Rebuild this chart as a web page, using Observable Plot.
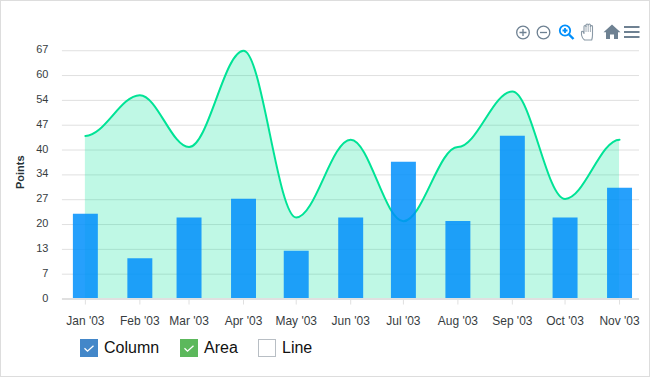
<!DOCTYPE html>
<html><head><meta charset="utf-8">
<script src="https://cdn.jsdelivr.net/npm/d3@7"></script>
<script src="https://cdn.jsdelivr.net/npm/@observablehq/plot@0.6"></script>
<style>
html,body{margin:0;padding:0;background:#fff}
#frame{position:relative;width:648px;height:375px;border:1px solid #ddd;overflow:hidden;font-family:"Liberation Sans",Arial,sans-serif}
#chart{position:absolute;left:-1px;top:-1px}
#chart svg{display:block}
.tb{position:absolute;left:-1px;top:-1px}
.lg{position:absolute;top:337px;font-size:16px;color:#111;line-height:20px}
.box{position:absolute;top:338px;width:18px;height:18px;box-sizing:border-box}
</style></head><body>
<div id="frame">
<div id="chart"></div>
<svg class="tb" width="650" height="60" viewBox="0 0 650 60">
  <g fill="none" stroke="#6E8192" stroke-width="1.3">
    <circle cx="523" cy="32.500" r="6.300"/><path d="M519.500 32.500h7M523 29v7"/>
    <circle cx="543.500" cy="32.500" r="6.300"/><path d="M540 32.500h7"/>
  </g>
  <g fill="none" stroke="#008FFB" stroke-width="1.800">
    <circle cx="565" cy="30.500" r="5.200"/><path d="M562.500 30.500h5M565 28v5"/>
    <path stroke-width="2.400" d="M569 34.500l4.500 4.500"/>
  </g>
  <path fill="#fff" stroke="#8a99a6" stroke-width="1.100" stroke-linejoin="round" d="M584.500 40c-1.500-1-2.500-2.500-3-5v-3c0-1 1.500-1 1.800 0l.7 1.500v-7c0-1.300 2-1.300 2 0v-1.500c0-1.300 2.200-1.300 2.200 0v0c0-1.300 2.200-1.300 2.200 0v1.500c0-1.200 2.100-1.200 2.100 0v8.500c0 2-.3 3.500-.8 5z"/>
  <path fill="none" stroke="#8a99a6" stroke-width=".8" d="M586 26v6M588.200 25v7M590.400 26v6"/>
  <path fill="#6E8192" d="M612 24.500l8.500 7.800h-2.500v6.700h-4v-4.500h-4v4.500h-4v-6.700h-2.500z"/>
  <path fill="none" stroke="#6E8192" stroke-width="2" d="M624 27h15.500M624 32h15.500M624 37h15.500"/>
</svg>
<div class="box" style="left:79px;background:#4387c9;"><svg width="18" height="18"><path d="M4.500 9.200l3 3 6-5.500" fill="none" stroke="#fff" stroke-width="1.300"/></svg></div>
<div class="lg" style="left:103px">Column</div>
<div class="box" style="left:179px;background:#5cb85c;"><svg width="18" height="18"><path d="M4.500 9.200l3 3 6-5.500" fill="none" stroke="#fff" stroke-width="1.300"/></svg></div>
<div class="lg" style="left:203px">Area</div>
<div class="box" style="left:257px;background:#fff;border:1px solid #b8bec4"></div>
<div class="lg" style="left:281px">Line</div>
</div>
<script>
const months = ["2003-01-01","2003-02-01","2003-03-01","2003-04-01","2003-05-01","2003-06-01","2003-07-01","2003-08-01","2003-09-01","2003-10-01","2003-11-01"];
const columnValues = [23,11,22,27,13,22,37,21,44,22,30];
const areaValues = [44,55,41,67,22,43,21,41,56,27,43];
const yTicks = [0,6.7,13.4,20.1,26.8,33.5,40.2,46.9,53.6,60.3,67];
const yLabels = ["0","7","13","20","27","34","40","47","54","60","67"];

const dates = months.map(d => new Date(d + "T00:00:00Z"));
const rows = dates.map((d,i) => ({date:d, column:columnValues[i], area:areaValues[i]}));

// Smooth curve with flat tangents at every data point
function smoothCurve(context) {
  let px, py, n;
  return {
    areaStart(){ this._area = 0; }, areaEnd(){ this._area = NaN; },
    lineStart(){ n = 0; },
    lineEnd(){ if (this._area || (this._area !== 0 && n === 1)) context.closePath(); this._area = 1 - this._area; },
    point(x, y){
      x = +x; y = +y;
      if (n === 0) { this._area ? context.lineTo(x, y) : context.moveTo(x, y); }
      else { const k = (x - px) * 0.35; context.bezierCurveTo(px + k, py, x - k, y, x, y); }
      n++; px = x; py = y;
    }
  };
}

const plot = Plot.plot({
  width:650, height:330,
  marginLeft:62, marginRight:10, marginTop:50, marginBottom:30,
  style:{fontFamily:'"Liberation Sans",Arial,sans-serif', background:"transparent", overflow:"visible"},
  x:{type:"utc", domain:[dates[0],dates[dates.length-1]], range:[85,620]},
  y:{domain:[0,67], range:[299,50.3]},
  marks:[
    Plot.ruleY(yTicks.slice(1), {stroke:"#e0e0e0", strokeWidth:1}),
    Plot.areaY(rows, {x:"date", y1:0, y2:"area", curve:smoothCurve, fill:"#00E396", fillOpacity:0.25}),
    Plot.line(rows, {x:"date", y:"area", curve:smoothCurve, stroke:"#00E396", strokeWidth:2}),
    Plot.ruleX(rows, {x:"date", y1:0, y2:"column", stroke:"#008FFB", strokeOpacity:0.85, strokeWidth:25, dy:0.4}),
    Plot.ruleY([0], {stroke:"#e0e0e0", strokeWidth:2}),
    Plot.axisY({ticks:yTicks, tickFormat:(d,i)=>yLabels[i], tickSize:0, tickPadding:0, dx:-14, dy:-1, fontSize:11, fill:"#373d3f", label:null}),
    Plot.axisX({ticks:dates, tickFormat:d3.utcFormat("%b '%y"), tickSize:5, tickPadding:11, stroke:"#e0e0e0", color:"#373d3f", fontSize:12, label:null}),
    Plot.text(["Points"], {frameAnchor:"left", textAnchor:"middle", dx:-42, dy:-3, rotate:-90, fontWeight:"bold", fontSize:11, fill:"#263238"})
  ]
});
document.getElementById("chart").appendChild(plot);
</script>
</body></html>
